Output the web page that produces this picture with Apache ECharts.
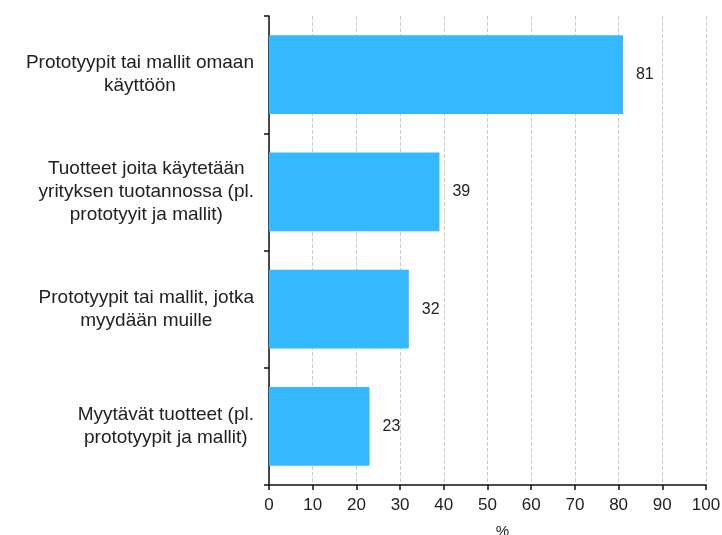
<!DOCTYPE html>
<html>
<head>
<meta charset="utf-8">
<script src="https://cdn.jsdelivr.net/npm/echarts@6/dist/echarts.min.js"></script>
<style>
  html, body { margin: 0; padding: 0; background: #fff; }
  #chart { width: 722px; height: 535px; }
</style>
</head>
<body>
<div id="chart"></div>
<script>
const categories = [
  "Prototyypit tai mallit omaan\nkäyttöön",
  "Tuotteet joita käytetään\nyrityksen tuotannossa (pl.\nprototyyit ja mallit)",
  "Prototyypit tai mallit, jotka\nmyydään muille",
  "Myytävät tuotteet (pl.\nprototyypit ja mallit)",
];
const values = [81, 39, 32, 23];
const xTicks = { min: 0, max: 100, interval: 10 };

const font = "'Liberation Sans', Arial, sans-serif";
const chart = echarts.init(document.getElementById("chart"));

chart.setOption({
  animation: false,
  grid: { left: 269, right: 16, top: 16, bottom: 50, containLabel: false, outerBoundsMode: "none" },
  xAxis: {
    type: "value",
    min: xTicks.min,
    max: xTicks.max,
    interval: xTicks.interval,
    name: "%",
    nameLocation: "middle",
    nameGap: 39,
    nameTextStyle: { fontFamily: font, fontSize: 15, color: "#222", padding: [0, 0, 0, 30] },
    axisLine: { show: true, lineStyle: { color: "#111", width: 1.5 } },
    axisTick: { show: true, length: 5, lineStyle: { color: "#111", width: 1.5 } },
    axisLabel: { fontFamily: font, fontSize: 17, color: "#222", margin: 12 },
    splitLine: { show: true, lineStyle: { color: "#cccccc", type: "dashed", width: 1 } },
  },
  yAxis: {
    type: "category",
    data: categories,
    inverse: true,
    axisLine: { show: true, lineStyle: { color: "#111", width: 1.5 } },
    axisTick: { show: true, length: 5, lineStyle: { color: "#111", width: 1.5 } },
    axisLabel: {
      align: "right",
      margin: 15,
      formatter: (v) => v.split("\n").map((line) => "{c|" + line + "}").join("\n"),
      rich: {
        c: { align: "center", fontFamily: font, fontSize: 19, color: "#222", lineHeight: 23 },
      },
    },
    splitLine: { show: false },
  },
  series: [
    {
      type: "bar",
      data: values,
      barCategoryGap: "33%",
      itemStyle: { color: "#35b9fe" },
      label: {
        show: true,
        position: "right",
        distance: 13,
        fontFamily: font,
        fontSize: 16,
        color: "#222",
      },
    },
  ],
});
</script>
</body>
</html>
